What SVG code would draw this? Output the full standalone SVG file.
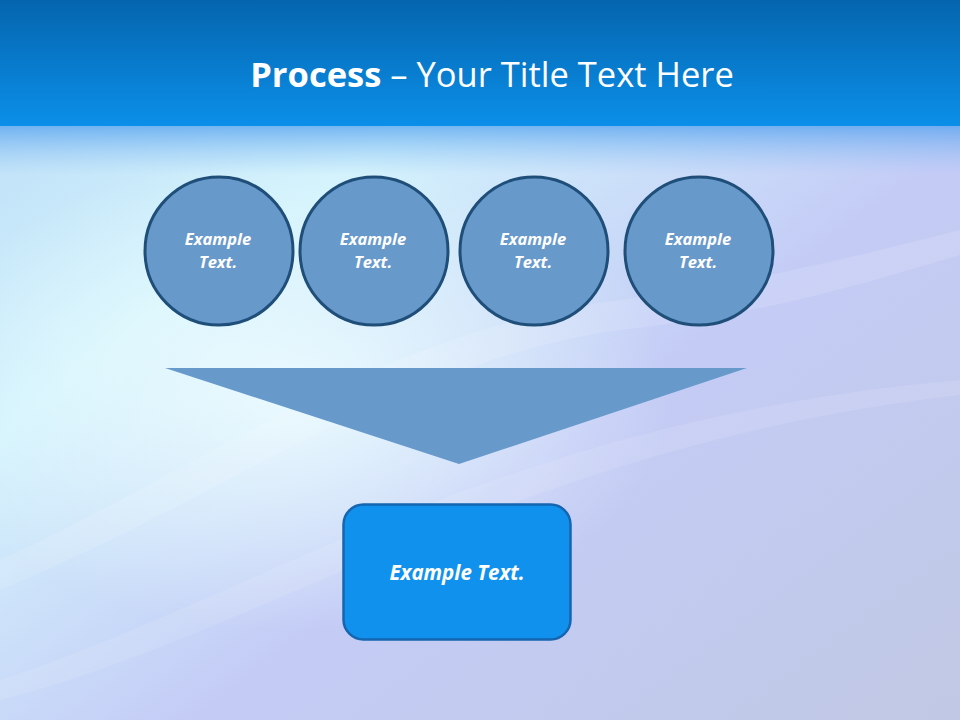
<svg xmlns="http://www.w3.org/2000/svg" width="960" height="720" viewBox="0 0 960 720">
<defs>
<linearGradient id="hdr" x1="0" y1="0" x2="0" y2="1">
<stop offset="0" stop-color="#0565AE"/>
<stop offset="1" stop-color="#0B8FE9"/>
</linearGradient>
<linearGradient id="bg" x1="0" y1="0" x2="1" y2="1">
<stop offset="0" stop-color="#B8DAF6"/>
<stop offset="0.3" stop-color="#D2F2FC"/>
<stop offset="0.6" stop-color="#C4CCF6"/>
<stop offset="1" stop-color="#C0C8E4"/>
</linearGradient>
<radialGradient id="glow" cx="0.3" cy="0.45" r="0.4">
<stop offset="0" stop-color="#EFFFFF" stop-opacity="0.85"/>
<stop offset="1" stop-color="#EFFFFF" stop-opacity="0"/>
</radialGradient>
<linearGradient id="band" x1="0" y1="0" x2="0" y2="1">
<stop offset="0" stop-color="#4A9CEE"/>
<stop offset="1" stop-color="#8CC0F4" stop-opacity="0"/>
</linearGradient>
</defs>
<style>
.circ{fill:#6899CB;stroke:#1F4E79;stroke-width:3}
.ct{font-family:"Open Sans","Noto Sans",sans-serif;font-weight:bold;font-style:italic;fill:#fff;font-size:16.5px;text-anchor:middle}
</style>
<g id="background">
<rect x="0" y="0" width="960" height="720" fill="url(#bg)"/>
<rect x="0" y="125" width="960" height="595" fill="url(#glow)"/>
<path d="M0 560 C200 470 380 330 620 300 C760 282 880 250 960 230 L960 255 C860 285 760 315 620 330 C400 360 220 500 0 590 Z" fill="#FFFFFF" opacity="0.12"/>
<path d="M0 680 C250 600 500 420 960 380 L960 395 C520 445 260 635 0 700 Z" fill="#FFFFFF" opacity="0.1"/>
<rect x="0" y="125" width="960" height="50" fill="url(#band)" opacity="0.7"/>
<rect x="0" y="0" width="960" height="126" fill="url(#hdr)"/>
</g>
<g id="title">
<text x="492" y="87" text-anchor="middle" font-family="Open Sans,'Noto Sans',sans-serif" font-size="34.5" fill="#FFFFFF"><tspan font-weight="bold">Process</tspan> – Your Title Text Here</text>
</g>
<g id="node1">
<circle class="circ" cx="219" cy="251" r="74"/>
<text class="ct" x="218" y="245">Example</text>
<text class="ct" x="218" y="268">Text.</text>
</g>
<g id="node2">
<circle class="circ" cx="374" cy="251" r="74"/>
<text class="ct" x="373" y="245">Example</text>
<text class="ct" x="373" y="268">Text.</text>
</g>
<g id="node3">
<circle class="circ" cx="534" cy="251" r="74"/>
<text class="ct" x="533" y="245">Example</text>
<text class="ct" x="533" y="268">Text.</text>
</g>
<g id="node4">
<circle class="circ" cx="699" cy="251" r="74"/>
<text class="ct" x="698" y="245">Example</text>
<text class="ct" x="698" y="268">Text.</text>
</g>
<g id="connectors">
<polygon points="165,368 747,368 459,464" fill="#6899CB"/>
</g>
<g id="result">
<rect x="343.5" y="504.5" width="227" height="135" rx="20" fill="#1191EE" stroke="#1565B0" stroke-width="2.5"/>
<text x="457" y="580" text-anchor="middle" font-family="Open Sans,'Noto Sans',sans-serif" font-weight="bold" font-style="italic" font-size="20.5" fill="#FFFFFF">Example Text.</text>
</g>
</svg>
